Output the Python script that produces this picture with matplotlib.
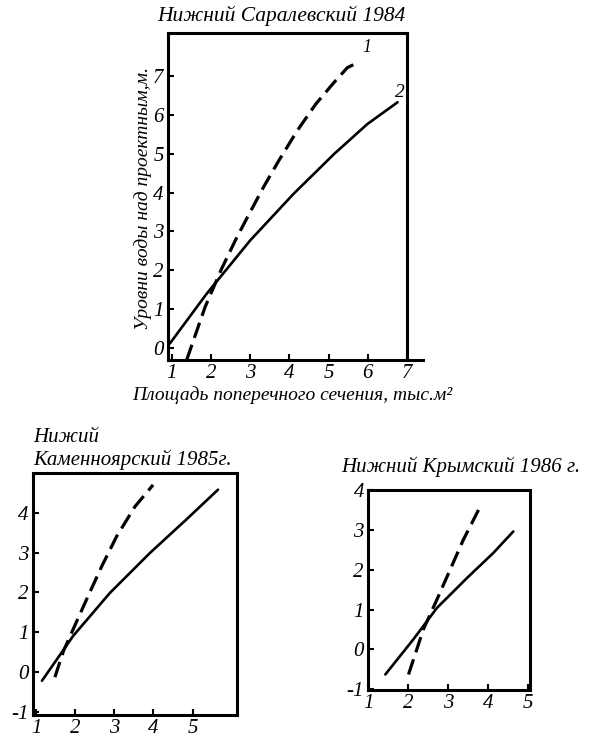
import matplotlib.pyplot as plt

plt.rcParams['font.family'] = ['Liberation Serif', 'DejaVu Serif']
plt.rcParams['font.style'] = 'italic'
plt.rcParams['axes.unicode_minus'] = False

# --- Нижний Саралевский 1984 ---
sar_x1 = [1.38, 1.85, 2.27, 2.66, 3.0, 3.34, 3.73, 4.2, 4.67, 5.14, 5.48, 5.79]
sar_y1 = [-0.3, 1.06, 2.04, 2.85, 3.5, 4.14, 4.82, 5.59, 6.27, 6.83, 7.21, 7.36]
sar_x2 = [0.95, 1.89, 3.0, 4.11, 5.14, 5.99, 6.76]
sar_y2 = [0.12, 1.4, 2.77, 3.97, 4.99, 5.76, 6.32]
sar_xt = [1, 2, 3, 4, 5, 6, 7]
sar_yt = [0, 1, 2, 3, 4, 5, 6, 7]

# --- Нижий Каменноярский 1985г. ---
kam_x1 = [1.48, 1.7, 1.95, 2.33, 2.68, 3.06, 3.53, 3.99]
kam_y1 = [-0.13, 0.53, 1.08, 1.91, 2.66, 3.41, 4.16, 4.7]
kam_x2 = [1.15, 1.95, 2.89, 3.91, 4.84, 5.65]
kam_y2 = [-0.22, 0.91, 1.99, 2.99, 3.83, 4.58]
kam_xt = [1, 2, 3, 4, 5]
kam_yt = [-1, 0, 1, 2, 3, 4]

# --- Нижний Крымский 1986 г. ---
kry_x1 = [2.01, 2.38, 2.72, 3.05, 3.38, 3.76]
kry_y1 = [-0.63, 0.5, 1.25, 2.0, 2.75, 3.5]
kry_x2 = [1.43, 2.13, 2.72, 3.47, 4.13, 4.63]
kry_y2 = [-0.63, 0.25, 1.04, 1.79, 2.42, 2.96]
kry_xt = [1, 2, 3, 4, 5]
kry_yt = [-1, 0, 1, 2, 3, 4]

fig = plt.figure(figsize=(5.89, 7.39), dpi=100)


def style(ax, xt, yt):
    ax.set_xticks(xt, labels=[str(v) for v in xt], fontstyle='italic')
    ax.set_yticks(yt, labels=[str(v) for v in yt], fontstyle='italic')
    for s in ax.spines.values():
        s.set_linewidth(2.2)
    ax.tick_params(direction='in', length=4, width=1.5, labelsize=15, pad=3)


def curves(ax, x1, y1, x2, y2):
    ax.plot(x1, y1, color='black', lw=2.3, dashes=(5, 2.3), solid_capstyle='round')
    ax.plot(x2, y2, color='black', lw=1.9, solid_capstyle='round')


ax1 = fig.add_axes([0.285, 0.513, 0.406, 0.4424])
curves(ax1, sar_x1, sar_y1, sar_x2, sar_y2)
ax1.set_xlim(0.9, 7.0)
ax1.set_ylim(-0.3, 8.1)
style(ax1, sar_xt, sar_yt)
ax1.spines['bottom'].set_bounds(0.9, 7.4)
ax1.text(5.86, 7.6, '1', fontsize=13)
ax1.text(6.7, 6.45, '2', fontsize=14)
fig.text(0.477, 0.978, 'Нижний Саралевский 1984', ha='center', va='center', fontsize=15.5)
fig.text(0.243, 0.732, 'Уровни воды над проектным,м.', rotation=90,
         ha='center', va='center', fontsize=14)
fig.text(0.497, 0.465, 'Площадь поперечного сечения, тыс.м²', ha='center',
         va='center', fontsize=14)

ax2 = fig.add_axes([0.056, 0.0325, 0.346, 0.3275])
curves(ax2, kam_x1, kam_y1, kam_x2, kam_y2)
ax2.set_xlim(0.92, 6.13)
ax2.set_ylim(-1.08, 5.0)
style(ax2, kam_xt, kam_yt)
fig.text(0.056, 0.408, 'Нижий', ha='left', va='center', fontsize=15)
fig.text(0.056, 0.378, 'Каменноярский 1985г.', ha='left', va='center', fontsize=15)

ax3 = fig.add_axes([0.625, 0.0663, 0.275, 0.2706])
curves(ax3, kry_x1, kry_y1, kry_x2, kry_y2)
ax3.set_xlim(1.0, 5.05)
ax3.set_ylim(-1.02, 4.0)
style(ax3, kry_xt, kry_yt)
fig.text(0.783, 0.368, 'Нижний Крымский 1986 г.', ha='center', va='center', fontsize=15)

fig.savefig('out.png', dpi=100)
